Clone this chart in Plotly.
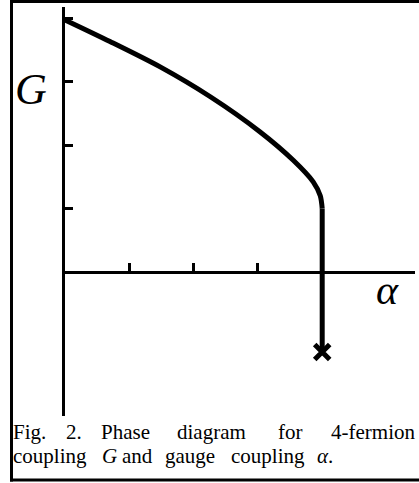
#!/usr/bin/env python3

import plotly.graph_objects as go

WIDTH, HEIGHT = 419, 483

# phase boundary G(alpha)
ALPHA_CURVE = [0.0, 0.7, 1.48, 2.26, 3.03, 3.55, 3.86, 3.97, 4.0]
G_CURVE = [3.97, 3.63, 3.23, 2.76, 2.21, 1.76, 1.42, 1.2, 1.0]

# vertical part of the boundary, ending at the cross
ALPHA_VERT = [4.0, 4.0]
G_VERT = [1.0, -1.26]
ALPHA_END = [4.0]
G_END = [-1.26]

X_TICKS = [1, 2, 3, 4]
Y_TICKS = [1, 2, 3, 4]

CAPTION_1 = ["Fig.", "2.", "Phase", "diagram", "for", "4-fermion"]
CAPTION_2 = ["coupling", "<i>G</i>", "and", "gauge", "coupling", "<i>α</i>."]

# plot area in pixels (left, right, top, bottom)
PL, PR, PT, PB = 65, 415, 7, 416
SERIF = "Liberation Serif, Times New Roman, serif"
CAP_SIZE = 21


def px(x):
    return (x - PL) / (PR - PL)


def py(y):
    return (PB - y) / (PB - PT)


def main():
    fig = go.Figure()
    fig.add_trace(go.Scatter(x=ALPHA_CURVE, y=G_CURVE, mode="lines",
                             line=dict(color="black", width=5, shape="spline", smoothing=0.8)))
    fig.add_trace(go.Scatter(x=ALPHA_VERT, y=G_VERT, mode="lines",
                             line=dict(color="black", width=5)))
    fig.add_trace(go.Scatter(x=ALPHA_END, y=G_END, mode="markers",
                             marker=dict(symbol="x-thin", size=15, line=dict(color="black", width=5))))

    yr = [-(PB - 272) / 63.5, (272 - PT) / 63.5]
    xr = [0, (PR - PL) / 64.3]
    axis_common = dict(showgrid=False, zeroline=False, showticklabels=False,
                       showline=True, linecolor="black", linewidth=2.5,
                       ticks="inside", ticklen=8, tickwidth=2.5, tickcolor="black")
    fig.update_xaxes(range=xr, tickvals=X_TICKS, anchor="free",
                     position=-yr[0] / (yr[1] - yr[0]), **axis_common)
    fig.update_yaxes(range=yr, tickvals=Y_TICKS, **axis_common)

    ann = [
        dict(x=px(31), y=py(89), text="<i>G</i>", font=dict(size=44)),
        dict(x=px(387), y=py(290), text="<i>α</i>", font=dict(size=42)),
    ]
    # caption line 1 is justified, so each word sits where it does in the original
    for word, x0 in zip(CAPTION_1, [12, 65, 100, 176, 277]):
        ann.append(dict(x=px(x0), y=py(431.5), text=word, xanchor="left", font=dict(size=CAP_SIZE)))
    ann.append(dict(x=px(416), y=py(431.5), text=CAPTION_1[-1], xanchor="right",
                    font=dict(size=CAP_SIZE)))
    for word, x0 in zip(CAPTION_2, [12, 101, 121, 164, 230, 316]):
        ann.append(dict(x=px(x0), y=py(455.5), text=word, xanchor="left", font=dict(size=CAP_SIZE)))
    for a in ann:
        a.update(xref="paper", yref="paper", showarrow=False, yanchor="middle", borderpad=0)
        a.setdefault("xanchor", "center")
        a["font"].update(family=SERIF, color="black")

    # frame round the figure (no right edge in the original crop)
    frame = dict(type="line", xref="paper", yref="paper", line=dict(color="black", width=3))
    shapes = [
        dict(frame, x0=px(11.5), x1=px(11.5), y0=py(0), y1=py(481.5)),
        dict(frame, x0=px(10), x1=px(WIDTH + 2), y0=py(1.5), y1=py(1.5)),
        dict(frame, x0=px(10), x1=px(WIDTH + 2), y0=py(480), y1=py(480)),
    ]

    fig.update_layout(
        width=WIDTH, height=HEIGHT,
        margin=dict(l=PL, r=WIDTH - PR, t=PT, b=HEIGHT - PB),
        paper_bgcolor="white", plot_bgcolor="white",
        showlegend=False, annotations=ann, shapes=shapes,
    )
    # the page body has an 8px default margin; drop it so the figure sits at 0,0
    fig.write_html("out.html", config={"displayModeBar": False},
                   post_script="document.body.style.margin = '0';")


if __name__ == "__main__":
    main()
